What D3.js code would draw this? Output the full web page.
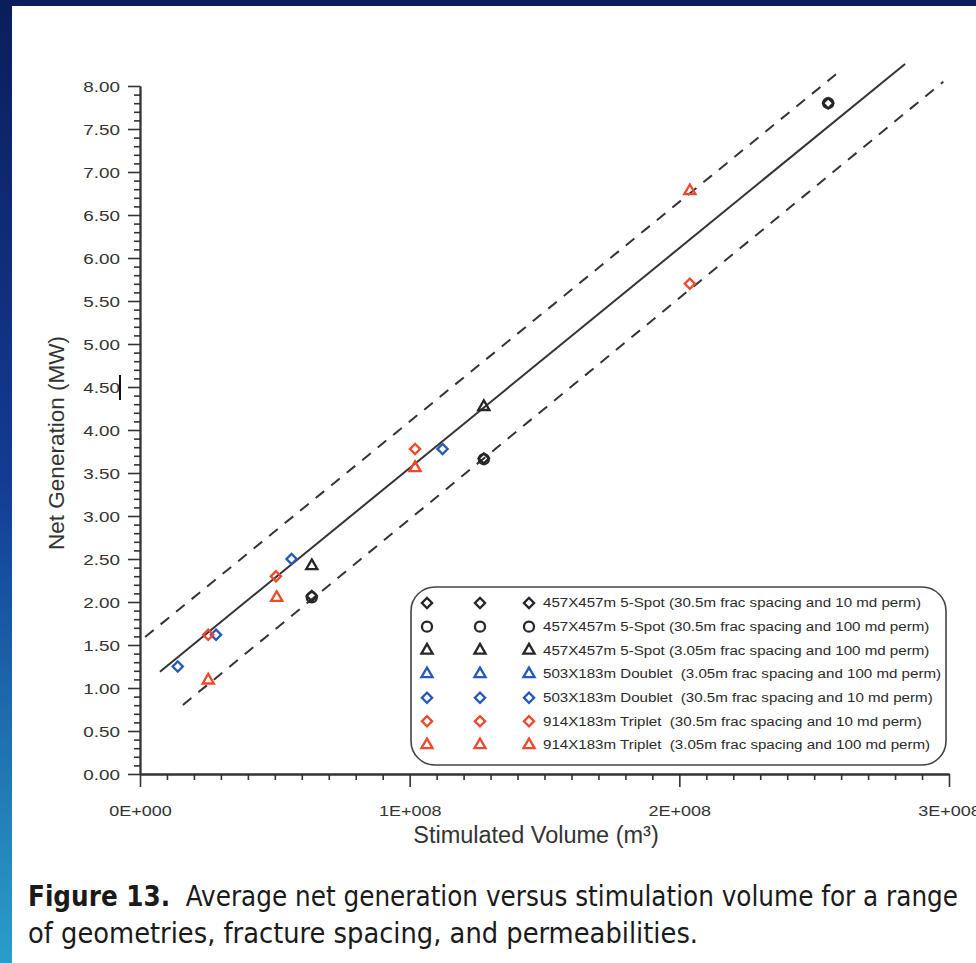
<!DOCTYPE html>
<html>
<head>
<meta charset="utf-8">
<script src="https://cdn.jsdelivr.net/npm/d3@7"></script>
<style>
  html, body { margin: 0; padding: 0; }
  body {
    width: 976px; height: 963px; overflow: hidden;
    background: linear-gradient(to bottom, #0b1d5b 0%, #123c94 50%, #2a9ec8 100%);
  }
  svg { display: block; }
</style>
</head>
<body>
<svg id="chart" width="976" height="963"></svg>
<script>
// ---- data ---------------------------------------------------------------
const xMajorTicks = [0, 1e8, 2e8, 3e8];
const xTickLabels = ["0E+000", "1E+008", "2E+008", "3E+008"];
const yMajorTicks = [0, 0.5, 1, 1.5, 2, 2.5, 3, 3.5, 4, 4.5, 5, 5.5, 6, 6.5, 7, 7.5, 8];
const yTickLabels = ["0.00", "0.50", "1.00", "1.50", "2.00", "2.50", "3.00", "3.50", "4.00",
                     "4.50", "5.00", "5.50", "6.00", "6.50", "7.00", "7.50", "8.00"];

const seriesNames = [
  "457X457m 5-Spot (30.5m frac spacing and 10 md perm)",
  "457X457m 5-Spot (30.5m frac spacing and 100 md perm)",
  "457X457m 5-Spot (3.05m frac spacing and 100 md perm)",
  "503X183m Doublet  (3.05m frac spacing and 100 md perm)",
  "503X183m Doublet  (30.5m frac spacing and 10 md perm)",
  "914X183m Triplet  (30.5m frac spacing and 10 md perm)",
  "914X183m Triplet  (3.05m frac spacing and 100 md perm)"
];
const seriesShapes = ["diamond", "circle", "triangle", "triangle", "diamond", "diamond", "triangle"];
const seriesColors = ["#262626", "#262626", "#262626", "#2558b8", "#2558b8", "#f0482a", "#f0482a"];

// stimulated volume (m3) and net generation (MW) per series
const spot10Vol   = [0.637e8, 1.275e8, 2.552e8];
const spot10Gen   = [2.07, 3.67, 7.80];
const spot100Vol  = [0.637e8, 1.275e8, 2.552e8];
const spot100Gen  = [2.055, 3.66, 7.80];
const spot305Vol  = [0.637e8, 1.275e8];
const spot305Gen  = [2.42, 4.27];
const doub305Vol  = [];
const doub305Gen  = [];
const doub10Vol   = [0.140e8, 0.282e8, 0.562e8, 1.122e8];
const doub10Gen   = [1.25, 1.62, 2.50, 3.78];
const trip10Vol   = [0.253e8, 0.504e8, 1.020e8, 2.039e8];
const trip10Gen   = [1.62, 2.30, 3.78, 5.70];
const trip305Vol  = [0.253e8, 0.507e8, 1.020e8, 2.039e8];
const trip305Gen  = [1.09, 2.05, 3.56, 6.78];

const seriesVol = [spot10Vol, spot100Vol, spot305Vol, doub305Vol, doub10Vol, trip10Vol, trip305Vol];
const seriesGen = [spot10Gen, spot100Gen, spot305Gen, doub305Gen, doub10Gen, trip10Gen, trip305Gen];

// trend line and its bounding lines (end points)
const fitVol   = [0.074e8, 2.837e8];
const fitGen   = [1.19, 8.256];
const upperVol = [0.019e8, 2.602e8];
const upperGen = [1.593, 8.19];
const lowerVol = [0.159e8, 2.979e8];
const lowerGen = [0.802, 8.05];

const xTitle = "Stimulated Volume (m\u00B3)";
const yTitle = "Net Generation (MW)";
const captionBold = "Figure 13.";
const captionLine1 = "  Average net generation versus stimulation volume for a range";
const captionLine2 = "of geometries, fracture spacing, and permeabilities.";

// ---- layout -------------------------------------------------------------
const svg = d3.select("#chart");
const FONT = "'Liberation Sans', Arial, Helvetica, sans-serif";
const INK = "#333";

// white page panel
svg.append("rect").attr("x", 12).attr("y", 6).attr("width", 964).attr("height", 957).attr("fill", "#ffffff");

const x = d3.scaleLinear().domain([0, 3e8]).range([140, 949]);
const y = d3.scaleLinear().domain([0, 8]).range([774, 86]);

// minor ticks
const xMinor = d3.range(0, 3e8 + 1, 1e7).filter(v => v % 1e8 !== 0);
const yMinor = d3.range(0, 81).map(i => i / 10).filter(v => Math.abs(v * 2 - Math.round(v * 2)) > 1e-6);

const gx = svg.append("g").attr("transform", `translate(0,${y(0)})`);
gx.append("g").call(d3.axisBottom(x).tickValues(xMinor).tickSize(6).tickSizeOuter(0).tickFormat(""));
gx.append("g").call(d3.axisBottom(x).tickValues(xMajorTicks).tickSize(13).tickSizeOuter(0)
  .tickFormat((d, i) => xTickLabels[i]));
gx.selectAll("text")
  .attr("y", 0).attr("dy", 0)
  .attr("transform", "translate(0,42) scale(1.2,1)")
  .attr("font-family", FONT).attr("font-size", 15).attr("fill", INK);

const gy = svg.append("g").attr("transform", `translate(${x(0)},0)`);
gy.append("g").call(d3.axisLeft(y).tickValues(yMinor).tickSize(6).tickSizeOuter(0).tickFormat(""));
gy.append("g").call(d3.axisLeft(y).tickValues(yMajorTicks).tickSize(12).tickSizeOuter(0)
  .tickFormat((d, i) => yTickLabels[i]));
gy.selectAll("text")
  .attr("x", 0).attr("dy", "0.35em")
  .attr("transform", "translate(-20,0) scale(1.3,1)")
  .attr("font-family", FONT).attr("font-size", 14.5).attr("fill", INK);

svg.selectAll(".domain").attr("stroke", INK).attr("stroke-width", 1.8);
svg.selectAll(".tick line").attr("stroke", INK).attr("stroke-width", 1.6);

// text cursor mark beside the 4.50 label
svg.append("line")
  .attr("x1", 120).attr("x2", 120)
  .attr("y1", y(4.5) - 12).attr("y2", y(4.5) + 13)
  .attr("stroke", "#111").attr("stroke-width", 2);

// axis titles
svg.append("text")
  .attr("x", 536).attr("y", 843)
  .attr("text-anchor", "middle")
  .attr("font-family", FONT).attr("font-size", 23.5).attr("fill", INK)
  .text(xTitle);

svg.append("text")
  .attr("transform", "translate(64,443) rotate(-90)")
  .attr("text-anchor", "middle")
  .attr("font-family", FONT).attr("font-size", 22.5).attr("fill", INK)
  .text(yTitle);

// trend lines
const line = d3.line().x(d => x(d[0])).y(d => y(d[1]));
function drawLine(vols, gens, dash) {
  svg.append("path")
    .datum(vols.map((v, i) => [v, gens[i]]))
    .attr("d", line)
    .attr("fill", "none")
    .attr("stroke", INK)
    .attr("stroke-width", 2)
    .attr("stroke-dasharray", dash || null);
}
drawLine(fitVol, fitGen);
drawLine(upperVol, upperGen, "11 9");
drawLine(lowerVol, lowerGen, "11 9");

// marker shapes
const shapePath = {
  circle: d3.symbol().type(d3.symbolCircle).size(80)(),
  diamond: d3.symbol().type(d3.symbolSquare).size(52)(),
  triangle: d3.symbol().type(d3.symbolTriangle).size(54)()
};
const shapeRotate = { circle: 0, diamond: 45, triangle: 0 };

function drawMarker(g, shape, color, px, py) {
  g.append("path")
    .attr("d", shapePath[shape])
    .attr("transform", `translate(${px},${py}) rotate(${shapeRotate[shape]})`)
    .attr("fill", "none")
    .attr("stroke", color)
    .attr("stroke-width", 2.3);
}

// data points
const gPts = svg.append("g");
seriesNames.forEach((name, s) => {
  seriesVol[s].forEach((v, i) => {
    drawMarker(gPts, seriesShapes[s], seriesColors[s], x(v), y(seriesGen[s][i]));
  });
});

// legend
const legend = svg.append("g");
legend.append("rect")
  .attr("x", 411).attr("y", 587).attr("width", 535).attr("height", 178)
  .attr("rx", 24).attr("ry", 24)
  .attr("fill", "#fff").attr("stroke", "#444").attr("stroke-width", 1.6);
const legendRow = d3.scaleLinear().domain([0, 6]).range([603, 745]);
const legendCols = [427, 480, 529];
seriesNames.forEach((name, s) => {
  const ry = legendRow(s);
  legendCols.forEach(cx => drawMarker(legend, seriesShapes[s], seriesColors[s], cx, ry));
  legend.append("text")
    .attr("x", 0).attr("y", 0).attr("dy", "0.35em")
    .attr("transform", `translate(543,${ry}) scale(1.21,1)`)
    .attr("font-family", FONT).attr("font-size", 12.5).attr("fill", "#2a2a2a")
    .style("white-space", "pre")
    .text(name);
});

// caption
const CAP_FONT = "'Liberation Sans Narrow', 'DejaVu Sans Condensed', 'Open Sans', sans-serif";
const cap1 = svg.append("text")
  .attr("x", 28).attr("y", 906)
  .attr("font-family", CAP_FONT).attr("font-size", 28).attr("fill", "#1a1a1a")
  .attr("textLength", 930).attr("lengthAdjust", "spacingAndGlyphs")
  .style("white-space", "pre");
cap1.append("tspan").attr("font-weight", "bold").text(captionBold);
cap1.append("tspan").text(captionLine1);
svg.append("text")
  .attr("x", 28).attr("y", 943)
  .attr("font-family", CAP_FONT).attr("font-size", 28).attr("fill", "#1a1a1a")
  .attr("textLength", 670).attr("lengthAdjust", "spacingAndGlyphs")
  .text(captionLine2);
</script>
</body>
</html>
